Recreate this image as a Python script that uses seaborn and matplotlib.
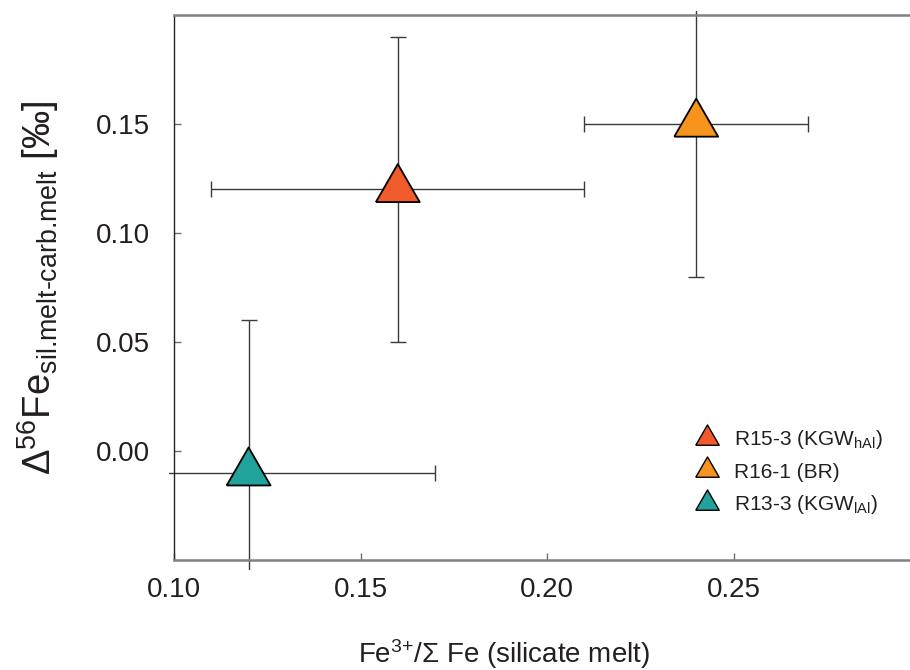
import numpy as np
import pandas as pd
import matplotlib
matplotlib.use("Agg")
import matplotlib.pyplot as plt
from matplotlib.lines import Line2D
from matplotlib.patches import Rectangle
import seaborn as sns

# Sample data: Fe3+/ΣFe of the silicate melt and Δ56Fe between silicate and carbonate melts
samples = ["R15-3 (KGW$_{\\mathregular{hAl}}$)", "R16-1 (BR)", "R13-3 (KGW$_{\\mathregular{lAl}}$)"]
fe_ratio = [0.16, 0.24, 0.12]
fe_ratio_err = [0.05, 0.03, 0.05]
delta_fe = [0.12, 0.15, -0.01]
delta_fe_err = [0.07, 0.07, 0.07]
colors = ["#F15A2B", "#F7941E", "#21A29A"]

x_ticks = [0.10, 0.15, 0.20, 0.25]
y_ticks = [0.00, 0.05, 0.10, 0.15]

df = pd.DataFrame({"sample": samples, "fe_ratio": fe_ratio, "fe_err": fe_ratio_err,
                   "delta": delta_fe, "delta_err": delta_fe_err})

sns.set_theme(style="ticks")
plt.rcParams["font.family"] = ["Liberation Sans", "DejaVu Sans"]
plt.rcParams["mathtext.fontset"] = "custom"
plt.rcParams["mathtext.rm"] = "Liberation Sans"
plt.rcParams["mathtext.it"] = "Liberation Sans:italic"
plt.rcParams["mathtext.bf"] = "Liberation Sans:bold"

text_color = "#231F20"
fig = plt.figure(figsize=(9.1, 6.7), dpi=100)
ax = fig.add_axes([174 / 910, 1 - 560 / 670, 746 / 910, 545 / 670])

# equilateral triangle centred on its centroid
tri = [(-1.0, -0.577), (1.0, -0.577), (0.0, 1.155), (-1.0, -0.577)]

# error bars, clipped slightly outside the frame
eb = ax.errorbar(df["fe_ratio"], df["delta"], xerr=df["fe_err"], yerr=df["delta_err"],
                 fmt="none", ecolor="#3a3a3a", elinewidth=1.0, capsize=5.5, capthick=1.0,
                 zorder=2)
clip = Rectangle((-5 / 746, -10 / 545), 1 + 10 / 746, 1 + 14 / 545,
                 transform=ax.transAxes, visible=False)
ax.add_patch(clip)
for art in list(eb.lines[1]) + list(eb.lines[2]):
    art.set_clip_path(clip)

sns.scatterplot(data=df, x="fe_ratio", y="delta", hue="sample", palette=colors,
                marker=tri, s=36.5 ** 2, edgecolor="black", linewidth=1.3,
                legend=False, zorder=3, ax=ax)

ax.set_xlim(0.10, 0.30)
ax.set_ylim(-0.05, 0.20)
ax.set_xticks(x_ticks)
ax.set_yticks(y_ticks)
ax.set_xticklabels([f"{v:.2f}" for v in x_ticks])
ax.set_yticklabels([f"{v:.2f}" for v in y_ticks])
ax.tick_params(axis="both", direction="in", length=5, width=1, color="#6d6d6d",
               labelsize=20, labelcolor=text_color)
ax.tick_params(axis="y", pad=17)
ax.tick_params(axis="x", pad=12)

ax.spines["right"].set_visible(False)
ax.spines["left"].set_color("#222222")
ax.spines["left"].set_linewidth(1.0)
for side in ("top", "bottom"):
    ax.spines[side].set_color("#808080")
    ax.spines[side].set_linewidth(1.8)

ax.set_xlabel("Fe$^{\\text{3+}}$/\u03a3 Fe (silicate melt)", fontsize=20, color=text_color)
ax.xaxis.set_label_coords((504 - 174) / 746, -0.142)
ax.set_ylabel("$\\Delta^{56}$Fe$_{\\text{sil.melt-carb.melt}}$ [\u2030]", fontsize=27.5,
              color=text_color)
ax.yaxis.set_label_coords(-0.152, 0.5)

handles = [Line2D([], [], linestyle="none", marker=tri, markersize=19.5,
                  markerfacecolor=c, markeredgecolor="black", markeredgewidth=1.0)
           for c in colors]
ax.legend(handles, samples, loc="upper left", bbox_to_anchor=(0.695, 0.242),
          frameon=False, fontsize=15, labelspacing=0.55, handletextpad=0.6,
          borderpad=0, borderaxespad=0, handlelength=1.4, labelcolor=text_color)

fig.savefig("out.png", dpi=100)
